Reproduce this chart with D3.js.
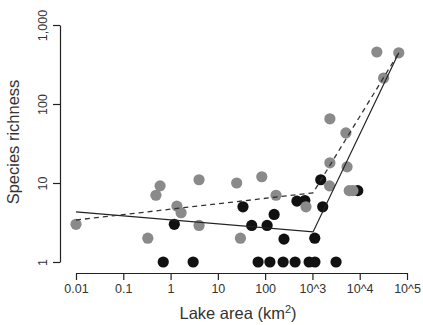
<!DOCTYPE html>
<html>
<head>
<meta charset="utf-8">
<script src="https://cdn.jsdelivr.net/npm/d3@7"></script>
<style>
  body { margin: 0; background: #fff; }
  text { font-family: "Liberation Sans", Arial, sans-serif; }
</style>
</head>
<body>
<div id="chart"></div>
<script>
// tick values and labels
const xTicks = [0.01, 0.1, 1, 10, 100, 1e3, 1e4, 1e5];
const xTickLabels = ["0.01", "0.1", "1", "10", "100", "10^3", "10^4", "10^5"];
const yTicks = [1, 10, 100, 1000];
const yTickLabels = ["1", "10", "100", "1,000"];

// gray series (area, richness)
const grayArea = [0.01, 0.6, 0.49, 0.33, 1.36, 1.67, 4, 4, 25, 85, 30, 170, 730, 2340, 5400, 2300, 6000, 7200, 23000, 67000, 32000, 2340, 5100];
const grayRich = [3.0, 9.2, 7.0, 2.0, 5.1, 4.2, 11, 2.9, 10, 12, 2.0, 7.0, 5.0, 18, 16, 9.2, 8.0, 8.0, 455, 445, 213, 65, 43];

// black series (area, richness)
const blackArea = [1.2, 0.7, 3, 34, 52, 110, 155, 250, 470, 690, 71, 126, 240, 430, 850, 1130, 3160, 1120, 1650, 1500, 9100];
const blackRich = [3.0, 1, 1, 5, 2.9, 2.9, 4, 1.95, 5.9, 6, 1, 1, 1, 1, 1, 1, 1, 2.0, 5, 11, 8];

// fitted segmented lines
const solidArea = [0.01, 1030, 67000];
const solidRich = [4.3, 2.4, 445];
const dashArea = [0.01, 1030, 67000];
const dashRich = [3.4, 7.5, 445];

const width = 423, height = 325;

const svg = d3.select("#chart").append("svg")
  .attr("width", width)
  .attr("height", height);

const x = d3.scaleLog().domain([0.01, 1e5]).range([76, 407]);
const y = d3.scaleLog().domain([1, 1000]).range([262, 25]);

// x axis
const xAxis = svg.append("g")
  .attr("transform", "translate(0,273)")
  .call(d3.axisBottom(x).tickValues(xTicks)
    .tickFormat((d, i) => xTickLabels[i]).tickSizeInner(7).tickSizeOuter(0).tickPadding(4));

// y axis
const yAxis = svg.append("g")
  .attr("transform", "translate(60,0)")
  .call(d3.axisLeft(y).tickValues(yTicks)
    .tickFormat((d, i) => yTickLabels[i]).tickSizeInner(7).tickSizeOuter(0));

[xAxis, yAxis].forEach(g => {
  g.select(".domain").attr("stroke", "#222").attr("stroke-width", 1.2);
  g.selectAll(".tick line").attr("stroke", "#222").attr("stroke-width", 1.2);
  g.selectAll(".tick text").attr("font-size", 12.5).attr("fill", "#333")
    .attr("font-family", "Liberation Sans, Arial, sans-serif");
});

// rotate y tick labels like R
yAxis.selectAll(".tick text")
  .attr("x", null).attr("dy", null)
  .attr("text-anchor", "middle")
  .attr("transform", "translate(-17,0) rotate(-90)")
  .attr("dy", "0.35em");

// axis titles
svg.append("text")
  .attr("x", 238).attr("y", 319)
  .attr("text-anchor", "middle")
  .attr("font-size", 16.5).attr("fill", "#333")
  .html("Lake area (km<tspan dy='-6' font-size='11'>2</tspan><tspan dy='6'>)</tspan>");

svg.append("text")
  .attr("transform", "translate(19,142) rotate(-90)")
  .attr("text-anchor", "middle")
  .attr("font-size", 16.5).attr("fill", "#333")
  .text("Species richness");

// points
const black = blackArea.map((a, i) => [a, blackRich[i]]);
const gray = grayArea.map((a, i) => [a, grayRich[i]]);

svg.append("g").selectAll("circle").data(black).join("circle")
  .attr("cx", d => x(d[0])).attr("cy", d => y(d[1]))
  .attr("r", 5.6).attr("fill", "#111");

svg.append("g").selectAll("circle").data(gray).join("circle")
  .attr("cx", d => x(d[0])).attr("cy", d => y(d[1]))
  .attr("r", 5.6).attr("fill", "#8a8a8a");

// lines
const line = d3.line().x(d => x(d[0])).y(d => y(d[1]));

svg.append("path")
  .datum(solidArea.map((a, i) => [a, solidRich[i]]))
  .attr("d", line)
  .attr("fill", "none").attr("stroke", "#222").attr("stroke-width", 1.2);

svg.append("path")
  .datum(dashArea.map((a, i) => [a, dashRich[i]]))
  .attr("d", line)
  .attr("fill", "none").attr("stroke", "#333").attr("stroke-width", 1.3)
  .attr("stroke-dasharray", "5,4");
</script>
</body>
</html>
